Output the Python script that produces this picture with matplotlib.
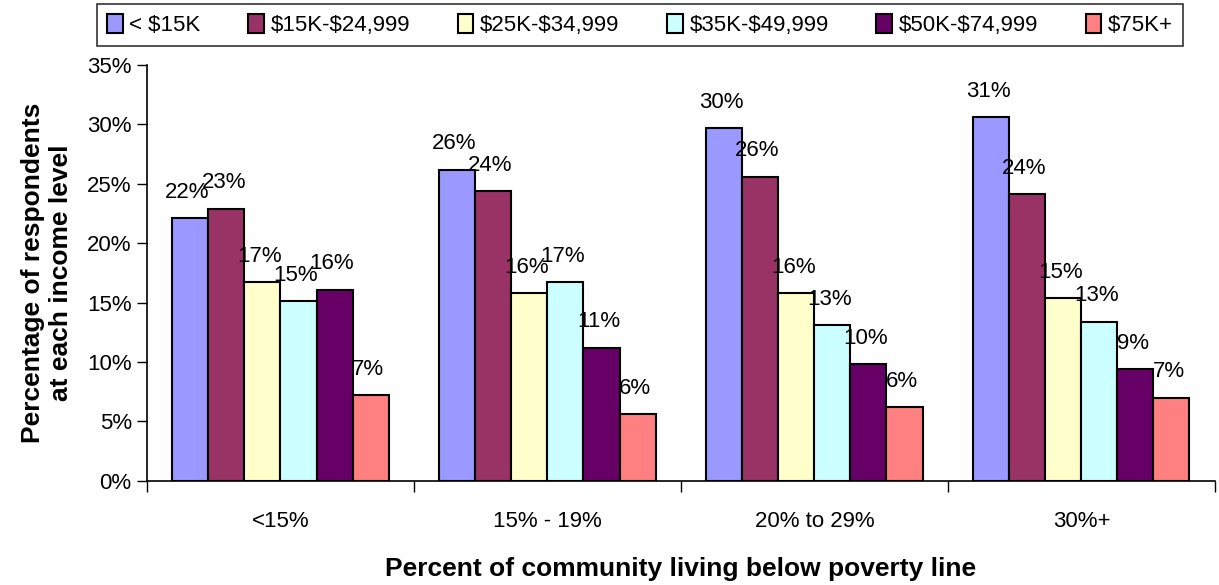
import numpy as np
import matplotlib.pyplot as plt

plt.rcParams['font.family'] = ['Liberation Sans', 'DejaVu Sans']
plt.rcParams['text.parse_math'] = False

groups = ["<15%", "15% - 19%", "20% to 29%", "30%+"]
series = ["< $15K", "$15K-$24,999", "$25K-$34,999", "$35K-$49,999", "$50K-$74,999", "$75K+"]

under15k = [22.1, 26.2, 29.7, 30.6]
k15_25 = [22.9, 24.4, 25.6, 24.1]
k25_35 = [16.7, 15.8, 15.8, 15.4]
k35_50 = [15.1, 16.7, 13.1, 13.4]
k50_75 = [16.1, 11.2, 9.8, 9.4]
k75plus = [7.2, 5.6, 6.2, 7.0]

values = [under15k, k15_25, k25_35, k35_50, k50_75, k75plus]
colors = ["#9999FF", "#993366", "#FFFFCC", "#CCFFFF", "#660066", "#FF8080"]

fig = plt.figure(figsize=(12.19, 5.85), dpi=100)
ax = fig.add_axes([0.1206, 0.178, 0.876, 0.711])

x = np.arange(len(groups))
w = 0.135
for i, (vals, c, name) in enumerate(zip(values, colors, series)):
    pos = x + (i - 2.5) * w
    ax.bar(pos, vals, w, color=c, edgecolor="black", linewidth=1.5, label=name)
    for p, v in zip(pos, vals):
        ax.annotate(f"{round(v):.0f}%", (p, v), xytext=(-2, 11), textcoords="offset points",
                    ha="center", va="bottom", fontsize=16)

ax.set_xlim(-0.5, 3.5)
ax.set_ylim(0, 35)
ax.set_yticks(np.arange(0, 36, 5))
ax.set_yticklabels([f"{t}%" for t in range(0, 36, 5)], fontsize=16)
ax.tick_params(axis="y", direction="out", length=7, width=1, pad=4)

ax.set_xticks(np.arange(-0.5, 3.6, 1))
ax.set_xticklabels([])
ax.tick_params(axis="x", which="major", direction="out", length=8, width=1)
ax.set_xticks(x, minor=True)
ax.set_xticklabels(groups, minor=True, fontsize=16)
ax.tick_params(axis="x", which="minor", length=0, pad=22)

for s in ["top", "right"]:
    ax.spines[s].set_visible(False)
ax.spines["left"].set_linewidth(1.2)
ax.spines["bottom"].set_linewidth(1.2)

ax.set_ylabel("Percentage of respondents\nat each income level", fontsize=19,
              fontweight="bold", labelpad=10)
ax.set_xlabel("Percent of community living below poverty line", fontsize=19,
              fontweight="bold", labelpad=18)

leg = fig.legend(loc="upper left", bbox_to_anchor=(97 / 1219, 1 - 5 / 585, 1086 / 1219, 0.001),
                 mode="expand", ncol=6, fontsize=16, frameon=True, fancybox=False,
                 edgecolor="black", borderaxespad=0, handlelength=0.7, handleheight=0.9,
                 handletextpad=0.3, borderpad=0.45)
leg.get_frame().set_linewidth(1.2)

fig.savefig("out.png", dpi=100)
